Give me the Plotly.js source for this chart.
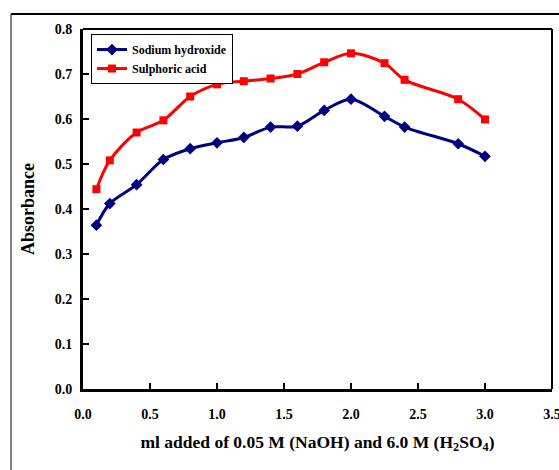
<!DOCTYPE html>
<html>
<head>
<meta charset="utf-8">
<script src="https://cdn.plot.ly/plotly-3.0.1.min.js"></script>
<style>
html,body{margin:0;padding:0;background:#fff;}
#chart{width:559px;height:470px;}
</style>
</head>
<body>
<div id="chart"></div>
<script>
var xValues = [0.1, 0.2, 0.4, 0.6, 0.8, 1.0, 1.2, 1.4, 1.6, 1.8, 2.0, 2.25, 2.4, 2.8, 3.0];
var sodiumHydroxide = [0.364, 0.412, 0.454, 0.510, 0.534, 0.547, 0.559, 0.582, 0.584, 0.619, 0.644, 0.606, 0.582, 0.545, 0.517];
var sulphoricAcid = [0.444, 0.508, 0.570, 0.597, 0.650, 0.677, 0.684, 0.690, 0.700, 0.726, 0.746, 0.724, 0.687, 0.644, 0.599];
var seriesNames = ["Sodium hydroxide", "Sulphoric acid"];
var xTickValues = [0, 0.5, 1.0, 1.5, 2.0, 2.5, 3.0, 3.5];
var yTickValues = [0, 0.1, 0.2, 0.3, 0.4, 0.5, 0.6, 0.7, 0.8];

var serif = "Liberation Serif";

var traces = [
  {
    x: xValues, y: sodiumHydroxide, name: seriesNames[0],
    type: "scatter", mode: "lines+markers",
    line: {color: "#000080", width: 3, shape: "spline", smoothing: 0.9},
    marker: {color: "#000080", symbol: "diamond", size: 9}
  },
  {
    x: xValues, y: sulphoricAcid, name: seriesNames[1],
    type: "scatter", mode: "lines+markers",
    line: {color: "#FF0000", width: 3, shape: "spline", smoothing: 0.9},
    marker: {color: "#FF0000", symbol: "square", size: 8}
  }
];

var layout = {
  width: 559, height: 470,
  margin: {l: 83, r: 7, t: 29, b: 81, pad: 0},
  paper_bgcolor: "#fff", plot_bgcolor: "#fff",
  font: {family: serif, color: "#000", weight: "bold"},
  showlegend: true,
  legend: {
    x: 0.017, y: 0.986, xanchor: "left", yanchor: "top",
    bgcolor: "#fff", bordercolor: "#000", borderwidth: 1,
    font: {family: serif, size: 12, color: "#000", weight: "bold"},
    itemwidth: 30, tracegroupgap: 0
  },
  xaxis: {
    range: [0, 3.5], tickvals: xTickValues, tickformat: ".1f",
    showgrid: false, zeroline: false,
    showline: true, linecolor: "#000", linewidth: 3,
    ticks: "inside", ticklen: 6, tickwidth: 2.5, tickcolor: "#000",
    ticklabelstandoff: 10, ticklabeloverflow: "allow",
    tickfont: {family: serif, size: 14, color: "#000", weight: "bold"},
    title: {
      text: "ml added of 0.05 M (NaOH) and 6.0 M (H<sub>2</sub>SO<sub>4</sub>)",
      font: {family: serif, size: 17.5, color: "#000", weight: "bold"},
      standoff: 15
    }
  },
  yaxis: {
    range: [0, 0.8], tickvals: yTickValues, tickformat: ".1f",
    showgrid: false, zeroline: false,
    showline: true, linecolor: "#000", linewidth: 3,
    ticks: "inside", ticklen: 6, tickwidth: 2.5, tickcolor: "#000",
    ticklabelstandoff: 5,
    tickfont: {family: serif, size: 14, color: "#000", weight: "bold"},
    title: {
      text: "Absorbance",
      font: {family: serif, size: 18, color: "#000", weight: "bold"},
      standoff: 16
    }
  },
  shapes: [
    {type: "line", xref: "paper", yref: "paper", x0: 0, x1: 1, y0: 1, y1: 1, line: {color: "#000", width: 2}},
    {type: "line", xref: "paper", yref: "paper", x0: 1, x1: 1, y0: 0, y1: 1, line: {color: "#000", width: 2}},
    {type: "line", xref: "paper", yref: "paper", x0: -0.1535, x1: 1.02, y0: 1.0417, y1: 1.0417, line: {color: "#000", width: 2}},
    {type: "line", xref: "paper", yref: "paper", x0: -0.1535, x1: -0.1535, y0: -0.23, y1: 1.0417, line: {color: "#000", width: 1}}
  ]
};

Plotly.newPlot("chart", traces, layout, {displayModeBar: false, staticPlot: true});
</script>
</body>
</html>
